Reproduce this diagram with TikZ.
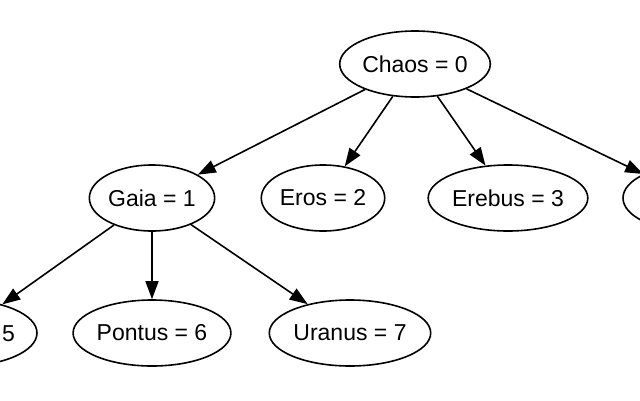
\documentclass[tikz,border=0pt]{standalone}
\usepackage{fontspec}
\setmainfont{Liberation Sans}
\usetikzlibrary{arrows.meta,shapes.geometric}
\begin{document}
\begin{tikzpicture}[x=1pt,y=-1pt,every node/.style={font=\fontsize{23}{27}\selectfont},
  gnode/.style={ellipse,draw,line width=1.6pt,minimum height=66pt,inner xsep=0.5pt,inner ysep=2pt},
  gedge/.style={-{Triangle[length=18pt,width=13pt]},line width=1.6pt}]
\useasboundingbox (0,0) rectangle (640,400);
\clip (0,0) rectangle (640,400);
% top
\node[gnode] (chaos) at (415,64) {Chaos = 0};
% second row
\node[gnode] (gaia) at (152,198) {Gaia = 1};
\node[gnode] (eros) at (323,198) {Eros = 2};
\node[gnode] (erebus) at (508,198) {Erebus = 3};
\node[gnode,minimum width=140pt] (n4) at (693,198) {};
% third row
\node[gnode,minimum width=150pt] (n5) at (-38,333) {};
\node[anchor=east,inner sep=0pt] (n5txt) at (15,334) {5};
\node[gnode] (pontus) at (152,333) {Pontus = 6};
\node[gnode] (uranus) at (350,333) {Uranus = 7};
% edges
\draw[gedge] (chaos)--(gaia); \draw[gedge] (chaos)--(eros);
\draw[gedge] (chaos)--(erebus); \draw[gedge] (chaos)--(n4);
\draw[gedge] (gaia)--(n5); \draw[gedge] (gaia)--(pontus);
\draw[gedge] (gaia)--(uranus);
\end{tikzpicture}
\end{document}
